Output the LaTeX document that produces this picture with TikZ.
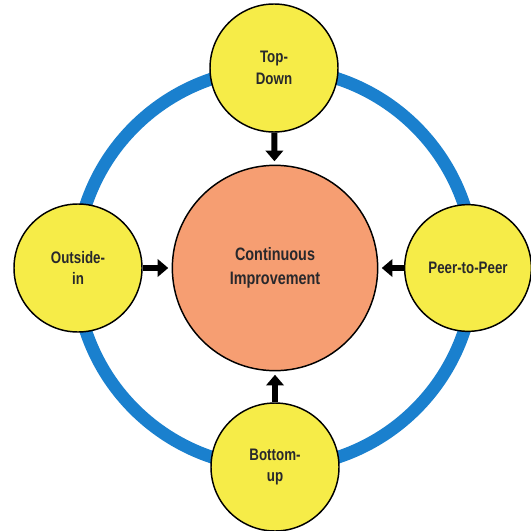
\documentclass[tikz,border=0pt]{standalone}
\usepackage{fontspec}
\setmainfont[FakeStretch=0.8]{Liberation Sans}
\usepackage{tikz}
\usetikzlibrary{arrows.meta,positioning}
\definecolor{ringblue}{RGB}{26,128,206}
\definecolor{discyellow}{RGB}{246,236,72}
\definecolor{coresalmon}{RGB}{246,158,114}
\definecolor{inktext}{RGB}{40,40,44}
\tikzset{approach/.style={circle, draw=black, line width=1.1pt, fill=discyellow, minimum size=96pt, inner sep=0pt, align=center, font=\bfseries\fontsize{12.5}{16}\selectfont, text=inktext},
core/.style={circle, draw=black, line width=1.1pt, fill=coresalmon, minimum size=154pt, inner sep=0pt, align=center, font=\bfseries\fontsize{13.5}{18}\selectfont, text=inktext},
push/.style={line width=4.5pt, -{Triangle[length=8pt, width=13pt]}, shorten >=2.5pt}}

\begin{document}
\begin{tikzpicture}[x=0.75pt, y=-0.75pt]

\useasboundingbox (0,0) rectangle (531,531);
\fill[white] (0,0) rectangle (531,531);

% the loop behind the four approaches
\draw[ringblue, line width=9.5pt] (275,268) circle [radius=149.5pt];

\node[core] (ci) at (275,268) {Continuous\\Improvement};

\node[approach] (top) at (274,68) {Top-\\Down};
\node[approach] (left) at (78,268) {Outside-\\in};
\node[approach, minimum size=95pt] (right) at (468,268) {Peer-to-Peer};
\node[approach] (bottom) at (275,467) {Bottom-\\up};

%\draw (ci) -- (top);
\draw[push] (top) -- (ci);
\draw[push] (left) -- (ci);
\draw[push] (right) -- (ci);
\draw[push] (bottom) -- (ci);

\end{tikzpicture}
\end{document}
